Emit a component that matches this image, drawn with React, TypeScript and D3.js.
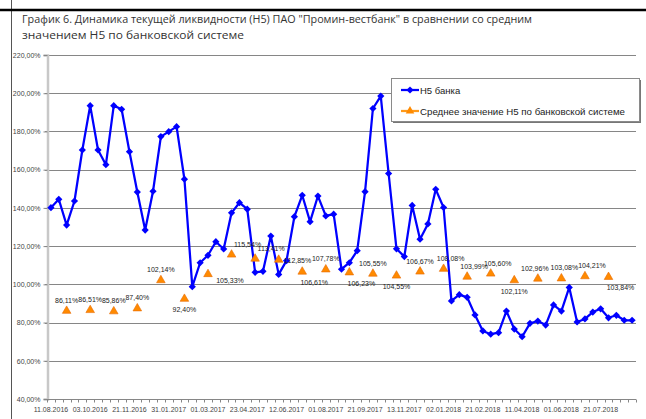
import React, { useEffect, useRef } from 'react'
import * as d3 from 'd3'

// every 5th category carries a date label
const tickLabels = [
    '11.08.2016', '03.10.2016', '21.11.2016', '31.01.2017', '01.03.2017',
    '23.04.2017', '12.06.2017', '01.08.2017', '21.09.2017', '13.11.2017',
    '02.01.2018', '21.02.2018', '11.04.2018', '01.06.2018', '21.07.2018',
]

// Н5 банка, %
const bankH5 = [
    140.1, 144.5, 131.0, 143.6, 170.3, 193.5, 170.3, 162.6, 193.5, 191.6,
    169.4, 148.3, 128.4, 148.7, 177.3, 179.9, 182.5, 155.0, 98.8, 111.3,
    115.2, 122.3, 118.5, 137.4, 142.7, 139.3, 106.3, 106.8, 125.3, 105.2,
    112.4, 135.4, 146.6, 132.8, 146.2, 135.8, 136.7, 107.9, 111.3, 117.6,
    148.5, 192.0, 198.5, 158.0, 118.6, 114.5, 141.3, 123.6, 131.6, 149.7,
    140.2, 91.3, 94.6, 93.2, 84.0, 75.6, 73.9, 74.7, 86.0, 76.6,
    72.6, 79.6, 80.8, 78.7, 89.2, 86.0, 98.4, 80.3, 81.9, 85.5,
    87.2, 82.5, 83.8, 81.2, 81.2,
]

// Среднее значение Н5 по банковской системе, %  (one value every 3rd category, starting at 3rd)
const systemH5 = [
    86.11, 86.51, 85.86, 87.40, 102.14, 92.40, 105.33, 115.54, 113.41, 112.85,
    106.61, 107.78, 106.23, 105.55, 104.55, 106.67, 108.08, 103.99, 105.60, 102.11,
    102.96, 103.08, 104.21, 103.84,
]

// where excel put each data label: t = top, b = bottom, tl = nudged left, ts/tr/tR/br/bR = nudged right, r = right
const labelSide = [
    't', 't', 't', 't', 't', 'b', 'bR', 'tR', 'tR', 'r',
    'br', 't', 'br', 't', 'b', 't', 'tr', 'tr', 'tr', 'b',
    'tl', 'ts', 'tr', 'br',
]

const yTicks = [40, 60, 80, 100, 120, 140, 160, 180, 200, 220]

const W = 646
const H = 419
const SMALL = '"Liberation Sans", Arial, sans-serif'
const TITLE = '"Open Sans", "Liberation Sans", sans-serif'

const fmt = (v: number) => v.toFixed(2).replace('.', ',') + '%'

export default function App() {
    const ref = useRef<SVGSVGElement>(null)

    useEffect(() => {
        const svg = d3.select(ref.current)
        svg.selectAll('*').remove()

        const x = d3.scaleBand<number>()
            .domain(d3.range(bankH5.length))
            .range([47, 636])
        const cx = (i: number) => (x(i) ?? 0) + x.bandwidth() / 2

        const y = d3.scaleLinear().domain([40, 220]).range([399, 55])

        // frame bits left over from the screenshot
        svg.append('line').attr('x1', 11.5).attr('x2', 11.5).attr('y1', 0).attr('y2', H)
            .attr('stroke', '#555').attr('stroke-width', 1)
        svg.append('line').attr('x1', 0).attr('x2', W).attr('y1', 10).attr('y2', 10)
            .attr('stroke', '#000').attr('stroke-width', 2.5)

        // title
        const title = svg.append('g').attr('font-family', TITLE).attr('fill', '#333')
        title.append('text').attr('x', 22).attr('y', 23).attr('font-size', 10.5)
            .attr('textLength', 510).attr('lengthAdjust', 'spacingAndGlyphs')
            .text('График 6.  Динамика текущей ликвидности (Н5) ПАО "Промин-вестбанк" в сравнении со средним')
        title.append('text').attr('x', 22).attr('y', 39).attr('font-size', 11)
            .attr('textLength', 222).attr('lengthAdjust', 'spacingAndGlyphs')
            .text('значением Н5 по банковской системе')

        // gridlines
        svg.append('g').selectAll('line')
            .data(yTicks.filter(t => t > 40))
            .enter().append('line')
            .attr('x1', 45).attr('x2', 636)
            .attr('y1', d => Math.round(y(d)) + 0.5).attr('y2', d => Math.round(y(d)) + 0.5)
            .attr('stroke', '#868686').attr('stroke-width', 1)

        // y axis
        const yAxis = svg.append('g').attr('transform', 'translate(47.5,0)')
            .call(d3.axisLeft(y).tickValues(yTicks).tickFormat(d => fmt(+d)).tickSize(4).tickPadding(3))
        yAxis.select('.domain').attr('stroke', '#c8c8c8').attr('stroke-width', 2.5)
        yAxis.selectAll('.tick line').attr('stroke', '#868686')
        yAxis.selectAll('.tick text').attr('font-family', SMALL).attr('font-size', 7).attr('fill', '#444')

        // x axis
        const xAxis = svg.append('g').attr('transform', 'translate(0,399.5)')
        xAxis.append('line').attr('x1', 46).attr('x2', 636).attr('stroke', '#868686')
        xAxis.selectAll('.tk')
            .data(d3.range(bankH5.length + 1))
            .enter().append('line')
            .attr('class', 'tk')
            .attr('x1', i => Math.round((x(0) ?? 0) + i * x.step()) + 0.5)
            .attr('x2', i => Math.round((x(0) ?? 0) + i * x.step()) + 0.5)
            .attr('y1', 0).attr('y2', 3)
            .attr('stroke', '#868686')
        xAxis.selectAll('text')
            .data(tickLabels)
            .enter().append('text')
            .attr('x', (_, k) => cx(k * 5))
            .attr('y', 12.5)
            .attr('text-anchor', 'middle')
            .attr('font-family', SMALL).attr('font-size', 7).attr('fill', '#444')
            .text(d => d)

        // bank series
        const line = d3.line<number>().x((_, i) => cx(i)).y(d => y(d))
        svg.append('path').datum(bankH5)
            .attr('d', line)
            .attr('fill', 'none').attr('stroke', '#0000ff').attr('stroke-width', 2.25)
            .attr('stroke-linejoin', 'round')
        const diamond = d3.symbol().type(d3.symbolSquare).size(26)
        svg.append('g').selectAll('path')
            .data(bankH5)
            .enter().append('path')
            .attr('d', diamond)
            .attr('transform', (d, i) => `translate(${cx(i)},${y(d)}) rotate(45)`)
            .attr('fill', '#0000ff')

        // system average: markers only
        const sysCat = systemH5.map((_, i) => 2 + i * 3)
        const tri = d3.symbol().type(d3.symbolTriangle).size(32)
        svg.append('g').selectAll('path')
            .data(systemH5)
            .enter().append('path')
            .attr('d', tri)
            .attr('transform', (d, i) => `translate(${cx(sysCat[i])},${y(d)})`)
            .attr('fill', '#ff8a00').attr('stroke', '#e86a00').attr('stroke-width', 0.6)

        const dx: Record<string, number> = { t: 0, tl: -3, ts: 3, b: 0, tr: 7, tR: 16, br: 12, bR: 22, r: 19 }
        const dy: Record<string, number> = { t: -8, tl: -8, ts: -8, b: 13.5, tr: -8, tR: -8, br: 13.5, bR: 9, r: 3 }
        svg.append('g').selectAll('text')
            .data(systemH5)
            .enter().append('text')
            .attr('x', (_, i) => cx(sysCat[i]) + dx[labelSide[i]])
            .attr('y', (d, i) => y(d) + dy[labelSide[i]])
            .attr('text-anchor', 'middle')
            .attr('font-family', SMALL).attr('font-size', 7).attr('fill', '#222')
            .text(d => fmt(d))

        // legend
        const lg = svg.append('g')
        lg.append('rect').attr('x', 393).attr('y', 80).attr('width', 248).attr('height', 43).attr('fill', '#777')
        lg.append('rect').attr('x', 391.5).attr('y', 78.5).attr('width', 248).attr('height', 43)
            .attr('fill', '#fff').attr('stroke', '#8a8a8a').attr('stroke-width', 1)
        lg.append('line').attr('x1', 401).attr('x2', 419).attr('y1', 90).attr('y2', 90)
            .attr('stroke', '#0000ff').attr('stroke-width', 2.25)
        lg.append('path').attr('d', diamond).attr('transform', 'translate(410,90) rotate(45)').attr('fill', '#0000ff')
        lg.append('line').attr('x1', 401).attr('x2', 419).attr('y1', 111).attr('y2', 111)
            .attr('stroke', '#ff9a1a').attr('stroke-width', 2.25)
        lg.append('path').attr('d', tri).attr('transform', 'translate(410,111)').attr('fill', '#ff8a00')
        lg.append('text').attr('x', 420).attr('y', 93.5)
            .attr('font-family', SMALL).attr('font-size', 9.5).attr('fill', '#222')
            .text('Н5 банка')
        lg.append('text').attr('x', 420).attr('y', 114.5)
            .attr('font-family', SMALL).attr('font-size', 9.5).attr('fill', '#222')
            .attr('textLength', 205).attr('lengthAdjust', 'spacingAndGlyphs')
            .text('Среднее значение Н5 по банковской системе')
    }, [])

    return (
        <svg ref={ref} width={W} height={H}
            style={{ position: 'absolute', left: 0, top: 0, background: '#fff' }} />
    )
}
